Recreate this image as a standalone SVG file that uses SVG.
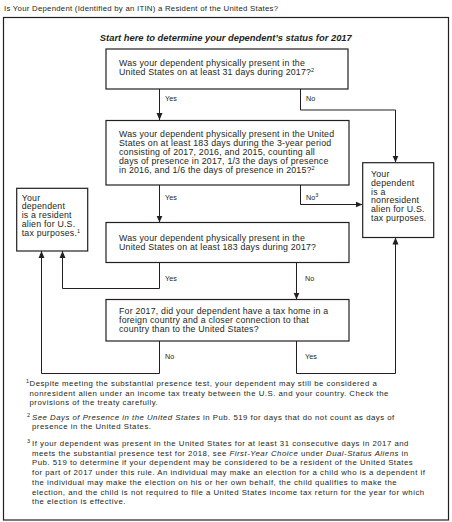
<svg xmlns="http://www.w3.org/2000/svg" width="452" height="522" viewBox="0 0 452 522">
<style>
  text { font-family: "Liberation Sans", Arial, sans-serif; fill: #231f20; }
  .hdr { font-size: 7.8px; letter-spacing: 0.25px; }
  .ttl { font-size: 9.4px; font-weight: bold; font-style: italic; }
  .bx { font-size: 8.8px; letter-spacing: 0.2px; }
  .lbl { font-size: 7.2px; }
  .fn { font-size: 7.8px; letter-spacing: 0.5px; }
  .sup { font-size: 5.5px; letter-spacing: 0; }
  .box { fill: #fff; stroke: #231f20; stroke-width: 1.2; }
  .frame { fill: none; stroke: #231f20; stroke-width: 1.2; }
  .con { fill: none; stroke: #231f20; stroke-width: 1; }
  .it { font-style: italic; }
</style>
<defs>
  <marker id="arr" markerUnits="userSpaceOnUse" markerWidth="7" markerHeight="7" viewBox="0 0 7 6" refX="7" refY="3" orient="auto">
    <path d="M0,0 L7,3 L0,6 z" fill="#231f20"/>
  </marker>
</defs>
<rect width="452" height="522" fill="#fff"/>
<text class="hdr" x="4" y="11">Is Your Dependent (Identified by an ITIN) a Resident of the United States?</text>
<rect class="frame" x="3.5" y="17.5" width="445" height="502.5"/>
<text class="ttl" x="225.8" y="41" text-anchor="middle">Start here to determine your dependent’s status for 2017</text>

<g id="connectors">
  <path class="con" d="M159.5,89 V120" marker-end="url(#arr)"/>
  <path class="con" d="M300.5,89 V110 H395.5 V162.5" marker-end="url(#arr)"/>
  <path class="con" d="M159.5,185 V222.5" marker-end="url(#arr)"/>
  <path class="con" d="M300.5,185 V204.5 H362.5" marker-end="url(#arr)"/>
  <path class="con" d="M159.5,262.5 V288.5 H62.5 V251" marker-end="url(#arr)"/>
  <path class="con" d="M296.5,262.5 V299.5" marker-end="url(#arr)"/>
  <path class="con" d="M159.5,341 V373.5 H41.5 V251" marker-end="url(#arr)"/>
  <path class="con" d="M296.5,341 V373.5 H395.5 V237.5" marker-end="url(#arr)"/>
  <text class="lbl" x="165" y="101">Yes</text>
  <text class="lbl" x="306" y="101">No</text>
  <text class="lbl" x="165" y="200">Yes</text>
  <text class="lbl" x="306" y="200">No<tspan class="sup" dy="-2.8">3</tspan></text>
  <text class="lbl" x="165" y="281">Yes</text>
  <text class="lbl" x="305" y="281">No</text>
  <text class="lbl" x="165" y="359">No</text>
  <text class="lbl" x="305" y="359">Yes</text>
</g>

<g id="q1">
  <rect class="box" x="106" y="49" width="242" height="40"/>
  <text class="bx" x="119" y="65.8">Was your dependent physically present in the</text>
  <text class="bx" x="119" y="75">United States on at least 31 days during 2017?<tspan class="sup" dy="-3.2">2</tspan></text>
</g>

<g id="q2">
  <rect class="box" x="106" y="120.5" width="243" height="64.5"/>
  <text class="bx" x="119" y="136.5">Was your dependent physically present in the United</text>
  <text class="bx" x="119" y="145.7">States on at least 183 days during the 3-year period</text>
  <text class="bx" x="119" y="154.9">consisting of 2017, 2016, and 2015, counting all</text>
  <text class="bx" x="119" y="164.1">days of presence in 2017, 1/3 the days of presence</text>
  <text class="bx" x="119" y="173.3">in 2016, and 1/6 the days of presence in 2015?<tspan class="sup" dy="-3.2">2</tspan></text>
</g>

<g id="q3">
  <rect class="box" x="106" y="222.5" width="243" height="40"/>
  <text class="bx" x="119" y="240.8">Was your dependent physically present in the</text>
  <text class="bx" x="119" y="250">United States on at least 183 days during 2017?</text>
</g>

<g id="q4">
  <rect class="box" x="106" y="299.5" width="243" height="41.5"/>
  <text class="bx" x="119" y="313.5">For 2017, did your dependent have a tax home in a</text>
  <text class="bx" x="119" y="322.7">foreign country and a closer connection to that</text>
  <text class="bx" x="119" y="331.9">country than to the United States?</text>
</g>

<g id="resident">
  <rect class="box" x="16.7" y="188.3" width="71" height="62.7"/>
  <text class="bx" x="21.7" y="200.5">Your</text>
  <text class="bx" x="21.7" y="209.4">dependent</text>
  <text class="bx" x="21.7" y="218.3">is a resident</text>
  <text class="bx" x="21.7" y="227.2">alien for U.S.</text>
  <text class="bx" x="21.7" y="236.1">tax purposes.<tspan class="sup" dy="-3.2">1</tspan></text>
</g>

<g id="nonresident">
  <rect class="box" x="362.7" y="162.7" width="71" height="74.8"/>
  <text class="bx" x="371" y="176.7">Your</text>
  <text class="bx" x="371" y="185.6">dependent</text>
  <text class="bx" x="371" y="194.5">is a</text>
  <text class="bx" x="371" y="203.4">nonresident</text>
  <text class="bx" x="371" y="212.3">alien for U.S.</text>
  <text class="bx" x="371" y="221.2">tax purposes.</text>
</g>

<g id="footnotes">
  <text class="sup" x="26" y="383">1</text>
  <text class="fn" x="29.5" y="386">Despite meeting the substantial presence test, your dependent may still be considered a</text>
  <text class="fn" x="29.5" y="395.5">nonresident alien under an income tax treaty between the U.S. and your country. Check the</text>
  <text class="fn" x="29.5" y="405">provisions of the treaty carefully.</text>

  <text class="sup" x="27" y="416.5">2</text>
  <text class="fn" x="32" y="419.5"><tspan class="it">See Days of Presence in the United States</tspan> in Pub. 519 for days that do not count as days of</text>
  <text class="fn" x="32" y="429">presence in the United States.</text>

  <text class="sup" x="27" y="443">3</text>
  <text class="fn" x="32" y="446">If your dependent was present in the United States for at least 31 consecutive days in 2017 and</text>
  <text class="fn" x="32" y="455.7">meets the substantial presence test for 2018, see <tspan class="it">First-Year Choice</tspan> under <tspan class="it">Dual-Status Aliens</tspan> in</text>
  <text class="fn" x="32" y="465.4">Pub. 519 to determine if your dependent may be considered to be a resident of the United States</text>
  <text class="fn" x="32" y="475.1">for part of 2017 under this rule. An individual may make an election for a child who is a dependent if</text>
  <text class="fn" x="32" y="484.8">the individual may make the election on his or her own behalf, the child qualifies to make the</text>
  <text class="fn" x="32" y="494.5">election, and the child is not required to file a United States income tax return for the year for which</text>
  <text class="fn" x="32" y="504.2">the election is effective.</text>
</g>
</svg>
